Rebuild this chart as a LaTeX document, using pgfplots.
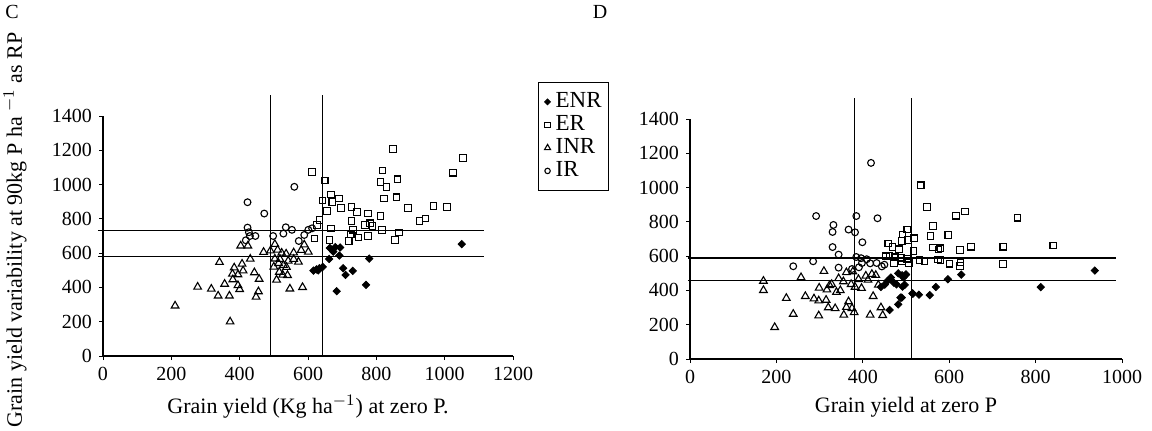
\documentclass[border=0pt]{standalone}
\usepackage{pgfplots}
\pgfplotsset{compat=1.18}
\usepackage{fontspec}
\setmainfont{Liberation Serif}

\tikzset{refl/.style={black, line width=0.6pt}}
\pgfplotsset{
  excel/.style={
    scale only axis,
    axis lines*=left,
    tick align=outside,
    major tick length=2pt,
    tick style={black, line width=0.5pt},
    axis line style={black, line width=0.6pt},
    ymin=0, ymax=1400, ytick={0,200,...,1400},
    /pgf/number format/assume math mode=true,
    /pgf/number format/1000 sep={},
    tick label style={font=\fontsize{10}{12}\selectfont},
    clip=false,
  },
  enr/.style={only marks, mark=square*, mark size=1.3pt, mark options={rotate=45, fill=black, draw=black, line width=0.4pt}},
  er/.style={only marks, mark=square, mark size=1.65pt, mark options={draw=black, fill=white, line width=0.55pt}},
  inr/.style={only marks, mark=triangle, mark size=2.2pt, mark options={draw=black, fill=white, line width=0.55pt}},
  ir/.style={only marks, mark=o, mark size=1.7pt, mark options={draw=black, fill=white, line width=0.55pt}},
}

\begin{document}
\begin{tikzpicture}
\useasboundingbox (0,0) rectangle (576pt,215pt);

% ---------------- Panel C ----------------
\begin{axis}[excel,
  at={(51.5pt,37pt)}, anchor=south west,
  width=205pt, height=120pt,
  xmin=0, xmax=1200, xtick={0,200,...,1200},
  legend style={at={(1.061,1.142)}, anchor=north west, draw=black, line width=0.5pt,
    font=\fontsize{11.5}{12}\selectfont, inner xsep=3pt, inner ysep=4pt, row sep=0pt,
    nodes={inner sep=0.5pt, text height=8pt, text depth=2.5pt},
    /tikz/every odd column/.append style={column sep=2pt},
    /tikz/every even column/.append style={column sep=1pt}},
  legend image post style={scale=0.8},
  legend cell align=left,
]
\draw[refl] (axis cs:491,0) -- (axis cs:491,1525);
\draw[refl] (axis cs:643,0) -- (axis cs:643,1525);
\draw[refl] (axis cs:-15,733) -- (axis cs:1115,733);
\draw[refl] (axis cs:-15,581) -- (axis cs:1115,581);

\addplot[enr] coordinates {
(1050,652) (664,630) (680,635) (694,633) (674,609) (692,586) (662,566) (779,568)
(616,498) (625,505) (633,512) (643,520) (630,500) (703,512) (731,496) (710,473)
(770,415) (684,378)
};
\addlegendentry{ENR}
\addplot[er] coordinates {
(612,1074) (649,1024) (849,1207) (1054,1154) (1025,1069) (818,1082) (812,1016)
(862,1031) (830,985) (822,919) (859,926) (667,942) (690,919) (642,907) (671,897)
(656,847) (697,862) (727,869) (744,839) (775,831) (727,788) (812,816) (893,862)
(967,875) (1007,868) (926,788) (944,802) (634,794) (626,763) (667,743) (731,737)
(767,765) (781,774) (789,759) (816,736) (867,720) (855,678) (725,708) (719,670)
(748,692) (775,699) (663,677) (619,685)
};
\addlegendentry{ER}
\addplot[inr] coordinates {
(211,293) (372,200) (277,403) (317,391) (337,351) (370,351) (341,547) (356,420)
(384,515) (407,537) (379,479) (395,475) (380,446) (395,412) (400,389) (410,498)
(431,566) (443,487) (457,449) (455,376) (448,345) (403,643) (424,643) (470,606)
(490,614) (503,652) (511,619) (523,601) (536,596) (518,565) (503,567) (500,520)
(514,541) (528,530) (542,555) (537,518) (558,565) (572,549) (558,603) (580,617)
(589,649) (601,607) (516,490) (526,473) (540,471) (508,444) (547,392) (584,401)
};
\addlegendentry{INR}
\addplot[ir] coordinates {
(423,897) (472,831) (560,987) (423,749) (427,722) (430,700) (446,700) (418,675)
(498,700) (528,714) (535,751) (553,736) (573,671) (589,706) (601,736) (612,745)
};
\addlegendentry{IR}
\end{axis}

% ---------------- Panel D ----------------
\begin{axis}[excel,
  at={(345pt,35.5pt)}, anchor=south west,
  width=216pt, height=120pt,
  xmin=0, xmax=1000, xtick={0,200,...,1000},
]
\draw[refl] (axis cs:380,0) -- (axis cs:380,1525);
\draw[refl] (axis cs:512,0) -- (axis cs:512,1525);
\draw[refl] (axis cs:-5,589) -- (axis cs:985,589);
\draw[refl] (axis cs:-5,457) -- (axis cs:985,457);

\addplot[enr] coordinates {
(937,516) (812,419) (628,492) (597,465) (569,420) (555,373) (530,375) (515,383)
(499,490) (494,475) (492,422) (490,358) (482,319) (462,286) (451,434) (465,475)
(472,445) (482,500) (491,488) (500,494) (478,436) (497,432) (516,381) (487,358)
(442,420) (457,455)
};
\addplot[er] coordinates {
(534,1013) (549,887) (616,836) (636,860) (758,824) (563,776) (557,718) (598,724)
(503,755) (492,727) (505,694) (519,704) (490,688) (459,673) (469,653) (484,640)
(517,630) (563,650) (575,638) (580,646) (625,636) (650,655) (724,652) (726,657)
(841,662) (531,578) (543,570) (574,581) (580,578) (601,556) (626,564) (625,543)
(725,555) (454,599) (462,601) (475,593) (488,591) (491,572) (502,585) (507,560)
(472,560)
};
\addplot[inr] coordinates {
(170,455) (170,401) (196,185) (257,476) (223,355) (239,262) (267,366) (287,352)
(298,340) (310,512) (299,415) (317,404) (323,430) (315,344) (339,390) (320,300)
(336,295) (298,253) (328,436) (344,470) (355,452) (362,505) (367,335) (362,302)
(356,257) (375,296) (380,272) (373,436) (382,420) (390,465) (397,413) (407,485)
(421,495) (430,489) (412,461) (436,432) (424,366) (417,257) (442,300) (446,255)
(377,510) (348,400)
};
\addplot[ir] coordinates {
(419,1144) (292,834) (385,834) (434,821) (332,782) (330,741) (367,755) (382,739)
(399,681) (330,653) (344,609) (385,595) (396,588) (409,582) (239,541) (285,570)
(344,533) (375,525) (391,535) (398,560) (417,558) (432,560) (444,540) (450,550)
};
\end{axis}

% ---------------- Texts ----------------
\node[font=\fontsize{10}{12}\selectfont] at (6pt,209pt) {C};
\node[font=\fontsize{10}{12}\selectfont] at (300pt,209pt) {D};
\node[rotate=90, font=\fontsize{11}{12}\selectfont] at (7.5pt,100pt)
  {Grain yield variability at 90kg P ha $^{-1}$ as RP};
\node[font=\fontsize{11}{12}\selectfont] at (154pt,11.5pt)
  {Grain yield (Kg ha$^{-1}$) at zero P.};
\node[font=\fontsize{11}{12}\selectfont] at (453pt,11.5pt)
  {Grain yield at zero P};
\end{tikzpicture}
\end{document}
